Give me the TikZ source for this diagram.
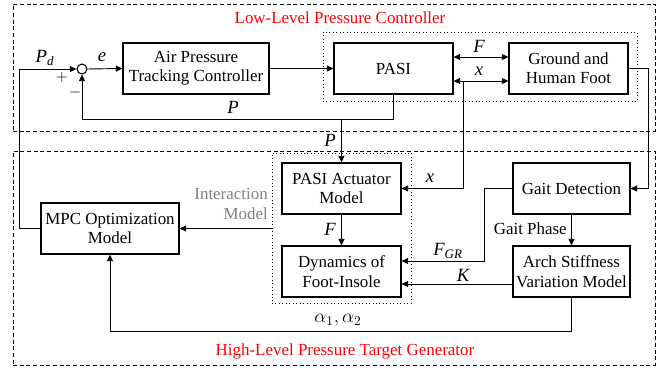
\documentclass[tikz,border=0pt]{standalone}
\usepackage{fontspec}
\setmainfont{Liberation Serif}
\usetikzlibrary{arrows.meta,calc}
\begin{document}
\begin{tikzpicture}[x=0.75pt,y=-0.75pt,
  font=\fontsize{12.7}{14.5}\selectfont,
  box/.style={draw, line width=0.8pt, inner sep=0pt, align=center, minimum height=38.25pt},
  dotbox/.style={draw, dotted, line width=0.6pt, inner sep=0pt},
  dashbox/.style={draw, dash pattern=on 3pt off 2pt, line width=0.6pt, inner sep=0pt},
  arr/.style={line width=0.7pt, -{Triangle[length=5pt,width=4.5pt]}},
  arrb/.style={line width=0.7pt, {Triangle[length=5pt,width=4.5pt]}-{Triangle[length=5pt,width=4.5pt]}},
  lbl/.style={inner sep=0pt, font=\fontsize{14}{16}\selectfont},
  sgn/.style={inner sep=0pt, font=\fontsize{13}{13}\selectfont},
  redlbl/.style={text=red, inner sep=0pt}
]
\useasboundingbox (0,0) rectangle (662,368);
% group frames
\node[dashbox, minimum width=481.5pt, minimum height=95.25pt] (low) at (334,67.5) {};
\node[dashbox, minimum width=481.5pt, minimum height=160.5pt] (high) at (334,258) {};
\node[dotbox, minimum width=235.5pt, minimum height=51.75pt] (plant) at (480,66.5) {};
\node[dotbox, minimum width=104.25pt, minimum height=112.5pt] (im) at (341.5,228) {};
\node[redlbl] (lowt) at (340,18) {Low-Level Pressure Controller};
\node[redlbl] (hight) at (345,351) {High-Level Pressure Target Generator};
% blocks
\node[box, minimum width=109.5pt] (apt) at (196,68.5) {Air Pressure\\Tracking Controller};
\node[box, minimum width=89.25pt] (pasi) at (393.5,68.5) {PASI};
\node[box, minimum width=89.25pt] (ground) at (568.5,68.5) {Ground and\\Human Foot};
\node[box, minimum width=103.5pt] (mpc) at (110,228.5) {MPC Optimization\\Model};
\node[box, minimum width=89.25pt] (act) at (341.5,188.5) {PASI Actuator\\Model};
\node[box, minimum width=89.25pt] (dyn) at (341.5,271.5) {Dynamics of\\Foot-Insole};
\node[box, minimum width=87.75pt] (gait) at (571.5,188.5) {Gait Detection};
\node[box, minimum width=87.75pt] (arch) at (571.5,271.5) {Arch Stiffness\\Variation Model};
\node[draw, circle, line width=0.8pt, minimum size=7.5pt, inner sep=0pt] (sum) at (82,69) {};
% connectors
\draw[arr] (mpc.west) -- ++(-21,0) |- (sum.west);
\draw[arr] (sum.east) -- (apt.west);
\draw[arr] (apt.east) -- (pasi.west);
\draw[arrb] ($(pasi.east)+(0,-11.5)$) -- ($(ground.west)+(0,-11.5)$);
\draw[arrb] ($(pasi.east)+(0,12.5)$) -- ($(ground.west)+(0,12.5)$);
\coordinate (xj) at (463,81);
\draw[arr] (xj) |- (act.east);
\draw[arr] (pasi.south) -- ++(0,25) -| (sum.south);
\coordinate (pj) at (341.5,119);
\draw[arr] (pj) -- (act.north);
\draw[arr] (ground.east) -- ++(20,0) |- (gait.east);
\draw[arr] (gait.south) -- (arch.north);
\draw[arr] (gait.west) -- ++(-28,0) |- ($(dyn.east)+(0,-10.5)$);
\draw[arr] ($(arch.west)+(0,12.5)$) -- ($(dyn.east)+(0,12.5)$);
\draw[arr] (act.south) -- (dyn.north);
\draw[arr] (im.west |- mpc.east) -- (mpc.east);
\draw[arr] (arch.south) -- ++(0,34) -| (mpc.south);
% labels
\node[lbl] (lpd) at (45,58) {$\mathit{P}_{\mathit{d}}$};
\node[lbl] (le) at (102,57) {$\mathit{e}$};
\node[sgn] (lplus) at (62,77) {$+$};
\node[sgn] (lminus) at (75,92) {$-$};
\node[lbl] (lp1) at (233,107) {$\mathit{P}$};
\node[lbl] (lp2) at (330,140) {$\mathit{P}$};
\node[lbl] (lf1) at (479,46) {$\mathit{F}$};
\node[lbl] (lx1) at (479,71) {$\mathit{x}$};
\node[lbl] (lx2) at (430,178) {$\mathit{x}$};
\node[lbl] (lf2) at (330,229) {$\mathit{F}$};
\node[lbl] (lfgr) at (448,251) {$\mathit{F}_{\mathit{GR}}$};
\node[lbl] (lk) at (463,275) {$\mathit{K}$};
\node[lbl, anchor=east, font=\fontsize{12.7}{14.5}\selectfont] (lgp) at (567,229) {Gait Phase};
\node[lbl] (lal) at (338,320) {$\alpha_1,\alpha_2$};
\node[lbl, anchor=east, align=right, text=gray, font=\fontsize{12.7}{14.5}\selectfont] (lim) at (268,204) {Interaction\\Model};
\end{tikzpicture}
\end{document}
